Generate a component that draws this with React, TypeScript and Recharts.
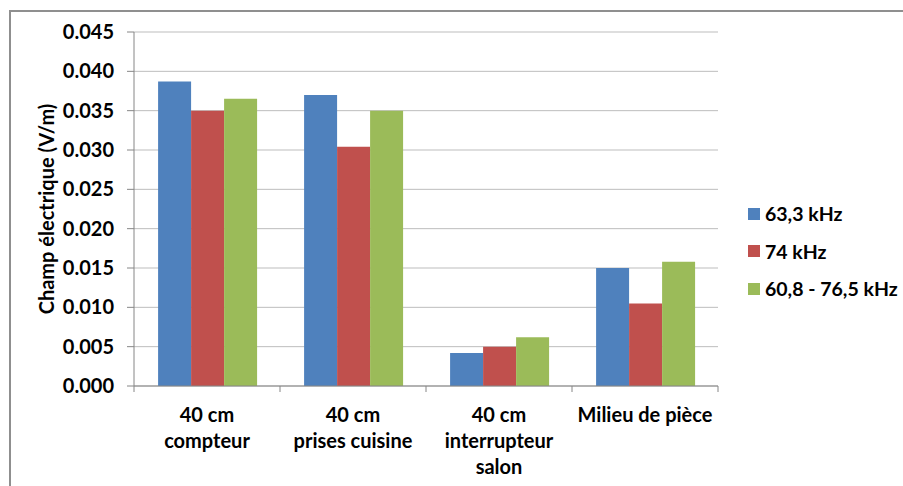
import { Bar, BarChart, CartesianGrid, Label, Legend, XAxis, YAxis } from "recharts";

const categories = ["40 cm\ncompteur", "40 cm\nprises cuisine", "40 cm\ninterrupteur\nsalon", "Milieu de pièce"];
const seriesNames = ["63,3 kHz", "74 kHz", "60,8 - 76,5 kHz"];
const values633 = [0.0387, 0.037, 0.0042, 0.015];
const values74 = [0.035, 0.0304, 0.005, 0.0105];
const valuesBand = [0.0365, 0.035, 0.0062, 0.0158];
const yTicks = [0, 0.005, 0.01, 0.015, 0.02, 0.025, 0.03, 0.035, 0.04, 0.045];

const data = categories.map((name, i) => ({
  name,
  f633: values633[i],
  f74: values74[i],
  band: valuesBand[i],
}));

const FONT = "Lato, 'Open Sans', sans-serif";
const FS = 20;
const AXIS = "#868686";

// category label + Excel-style tick marks on the category boundaries
function CategoryTick({ x, y, payload, index }: any) {
  const lines = String(payload.value).split("\n");
  const half = payload.offset || 0;
  return (
    <g>
      <line x1={x - half} x2={x - half} y1={y} y2={y + 6} stroke={AXIS} />
      {index === categories.length - 1 && (
        <line x1={x + half} x2={x + half} y1={y} y2={y + 6} stroke={AXIS} />
      )}
      <text x={x} y={y} textAnchor="middle" fontFamily={FONT} fontWeight={700} fontSize={FS} fill="#000">
        {lines.map((l, i) => (
          <tspan key={i} x={x} dy={i === 0 ? 36 : 26}>{l}</tspan>
        ))}
      </text>
    </g>
  );
}

function LegendBox({ payload }: any) {
  const items = [...(payload || [])].sort(
    (a: any, b: any) => seriesNames.indexOf(a.value) - seriesNames.indexOf(b.value)
  );
  return (
    <div style={{ fontFamily: FONT, fontWeight: 700, fontSize: 19.5, color: "#000", textAlign: "left" }}>
      {items.map((p: any) => (
        <div key={p.value} style={{ height: 37.5, display: "flex", alignItems: "center" }}>
          <span style={{ width: 12, height: 12, background: p.color, display: "inline-block", marginRight: 5 }} />
          <span>{p.value}</span>
        </div>
      ))}
    </div>
  );
}

export default function App() {
  return (
    <div>
      <div
        style={{
          position: "absolute", left: 9, top: 10, width: 894, height: 476,
          borderLeft: "2px solid #8f8f8f", borderTop: "2px solid #8f8f8f", boxSizing: "border-box",
        }}
      />
      <div style={{ position: "absolute", left: 0, top: 0 }}>
        <BarChart
          width={903}
          height={486}
          data={data}
          margin={{ top: 32, right: 185, left: 0, bottom: 0 }}
          barCategoryGap="16.5%"
          barGap={0}
        >
          <CartesianGrid vertical={false} stroke="#bdbdbd" />
          <XAxis
            dataKey="name"
            tick={<CategoryTick />}
            tickLine={false}
            tickSize={0}
            tickMargin={0}
            axisLine={{ stroke: AXIS }}
            interval={0}
            height={100}
          />
          <YAxis
            width={134}
            domain={[0, 0.045]}
            ticks={yTicks}
            tickFormatter={(v: number) => v.toFixed(3)}
            tick={{ fontFamily: FONT, fontWeight: 700, fontSize: FS, fill: "#000" }}
            tickSize={7}
            tickMargin={13}
            tickLine={{ stroke: AXIS }}
            axisLine={{ stroke: AXIS }}
          >
            <Label
              content={({ viewBox }: any) => {
                const cx = viewBox.x + 46;
                const cy = viewBox.y + viewBox.height / 2;
                return (
                  <text
                    x={cx}
                    y={cy}
                    transform={`rotate(-90 ${cx} ${cy})`}
                    textAnchor="middle"
                    dominantBaseline="central"
                    fontFamily={FONT}
                    fontWeight={700}
                    fontSize={FS}
                    fill="#000"
                  >
                    Champ électrique (V/m)
                  </text>
                );
              }}
            />
          </YAxis>
          <Legend
            layout="horizontal"
            verticalAlign="middle"
            align="center"
            content={<LegendBox />}
            wrapperStyle={{ left: 748, top: 195, width: 155 }}
          />
          <Bar dataKey="f633" name={seriesNames[0]} fill="#4F81BD" isAnimationActive={false} />
          <Bar dataKey="f74" name={seriesNames[1]} fill="#C0504D" isAnimationActive={false} />
          <Bar dataKey="band" name={seriesNames[2]} fill="#9BBB59" isAnimationActive={false} />
        </BarChart>
      </div>
    </div>
  );
}
